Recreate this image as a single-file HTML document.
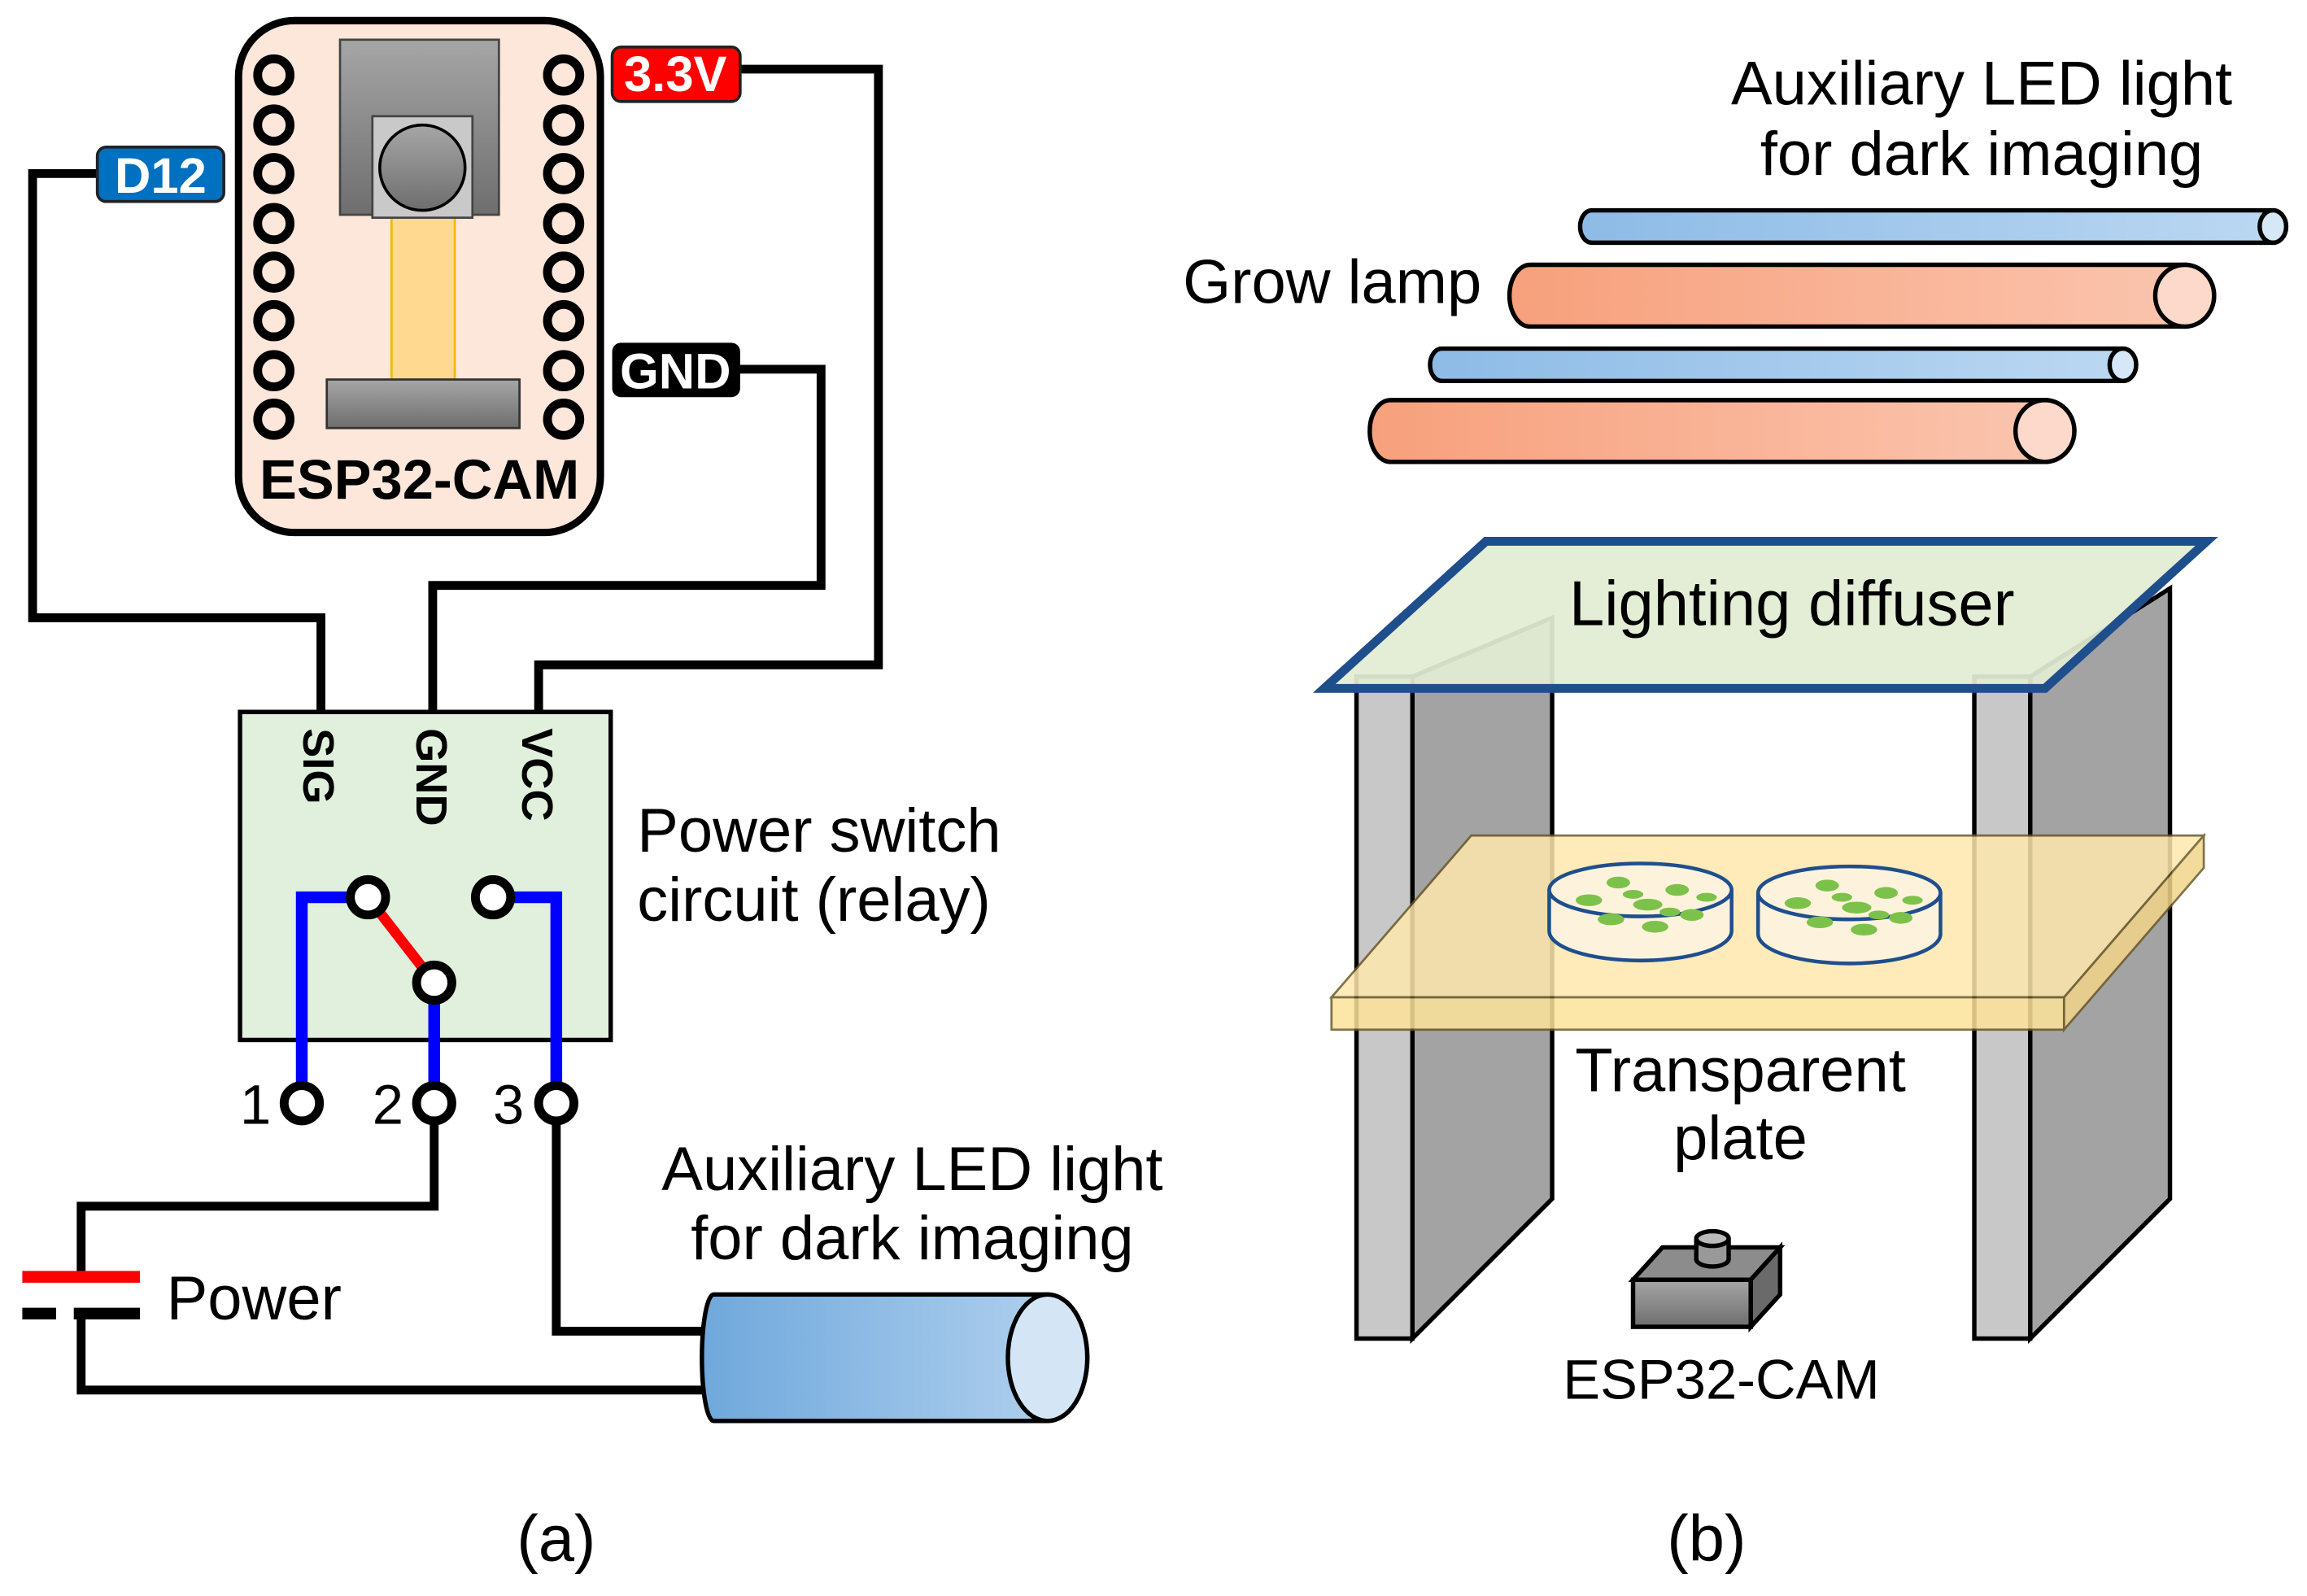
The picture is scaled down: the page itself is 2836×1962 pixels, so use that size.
<!DOCTYPE html>
<html><head><meta charset="utf-8"><style>
html,body{margin:0;padding:0;background:#fff;}
svg{display:block;}
text{font-family:"Liberation Sans","DejaVu Sans",sans-serif;}
</style></head><body>
<svg width="2836" height="1962" viewBox="0 0 1568 1085" xmlns="http://www.w3.org/2000/svg">
<defs>
<linearGradient id="gray" x1="0" y1="0" x2="0" y2="1"><stop offset="0" stop-color="#a6a6a6"/><stop offset="1" stop-color="#6e6e6e"/></linearGradient>
<linearGradient id="ledb" x1="0" y1="0" x2="1" y2="0"><stop offset="0" stop-color="#6fa8dc"/><stop offset="1" stop-color="#b5d3ef"/></linearGradient>
<linearGradient id="orng" x1="0" y1="0" x2="1" y2="0"><stop offset="0" stop-color="#f7a07c"/><stop offset="1" stop-color="#fbc6b0"/></linearGradient>
<linearGradient id="blt" x1="0" y1="0" x2="1" y2="0"><stop offset="0" stop-color="#8dbbe6"/><stop offset="1" stop-color="#bcd8f2"/></linearGradient>
</defs>
<g fill="none" stroke="#000" stroke-width="6">
<polyline points="66,118 22,118 22,420 218,420 218,484"/>
<polyline points="502,251 558,251 558,398 294,398 294,484"/>
<polyline points="502,47 597,47 597,452 366,452 366,484"/>
<polyline points="295,750 295,820 55,820 55,866"/>
<polyline points="55,893 55,945 490,945"/>
<polyline points="378,750 378,905 490,905"/>
</g>
<rect x="162" y="14" width="246" height="348" rx="38" fill="#fde6da" stroke="#000" stroke-width="5"/>
<g fill="#fde6da" stroke="#000" stroke-width="6">
<circle cx="186" cy="51" r="11"/><circle cx="186" cy="85" r="11"/><circle cx="186" cy="118" r="11"/><circle cx="186" cy="152" r="11"/><circle cx="186" cy="185" r="11"/><circle cx="186" cy="218" r="11"/><circle cx="186" cy="252" r="11"/><circle cx="186" cy="285" r="11"/>
<circle cx="383" cy="51" r="11"/><circle cx="383" cy="85" r="11"/><circle cx="383" cy="118" r="11"/><circle cx="383" cy="152" r="11"/><circle cx="383" cy="185" r="11"/><circle cx="383" cy="218" r="11"/><circle cx="383" cy="252" r="11"/><circle cx="383" cy="285" r="11"/>
</g>
<rect x="231" y="27" width="108" height="119" fill="url(#gray)" stroke="#444" stroke-width="1.5"/>
<rect x="266" y="148" width="43" height="110" fill="#fed98f" stroke="#f2b800" stroke-width="1.5"/>
<rect x="253" y="79" width="68" height="69" fill="#c9c9c9" stroke="#444" stroke-width="1.5"/>
<ellipse cx="287" cy="114" rx="29" ry="29" fill="url(#gray)" stroke="#000" stroke-width="2"/>
<rect x="222" y="258" width="131" height="33" fill="url(#gray)" stroke="#333" stroke-width="1.5"/>
<text x="285" y="339" font-size="38" font-weight="bold" text-anchor="middle">ESP32-CAM</text>
<rect x="416" y="32" width="87" height="37" rx="6" fill="#ff0000" stroke="#222" stroke-width="2"/>
<text x="459" y="62" font-size="34" font-weight="bold" fill="#fff" text-anchor="middle">3.3V</text>
<rect x="66" y="100" width="86" height="37" rx="6" fill="#0070c0" stroke="#222" stroke-width="2"/>
<text x="109" y="131" font-size="34" font-weight="bold" fill="#fff" text-anchor="middle">D12</text>
<rect x="416" y="233" width="87" height="37" rx="6" fill="#000"/>
<text x="459" y="264" font-size="34" font-weight="bold" fill="#fff" text-anchor="middle">GND</text>
<rect x="163" y="484" width="252" height="223" fill="#e0f0dc" stroke="#000" stroke-width="3"/>
<text font-size="30" font-weight="bold" transform="translate(206,495) rotate(90)">SIG</text>
<text font-size="30" font-weight="bold" transform="translate(283,495) rotate(90)">GND</text>
<text font-size="30" font-weight="bold" transform="translate(355,495) rotate(90)">VCC</text>
<g fill="none" stroke="#0000ff" stroke-width="8">
<polyline points="205,750 205,610 250,610"/>
<polyline points="295,668 295,750"/>
<polyline points="335,610 378,610 378,750"/>
</g>
<line x1="250" y1="610" x2="295" y2="668" stroke="#ff0000" stroke-width="7"/>
<g fill="#fff" stroke="#000" stroke-width="6">
<circle cx="250" cy="610" r="12"/><circle cx="295" cy="668" r="12"/><circle cx="335" cy="610" r="12"/>
<circle cx="205" cy="750" r="12"/><circle cx="295" cy="750" r="12"/><circle cx="378" cy="750" r="12"/>
</g>
<g font-size="38"><text x="163" y="764">1</text><text x="253" y="764">2</text><text x="335" y="764">3</text></g>
<line x1="15" y1="868" x2="95" y2="868" stroke="#ff0000" stroke-width="8"/>
<line x1="15" y1="893" x2="38" y2="893" stroke="#000" stroke-width="8"/>
<line x1="50" y1="893" x2="95" y2="893" stroke="#000" stroke-width="8"/>
<g font-size="42">
<text x="113" y="897">Power</text>
<text x="433" y="579">Power switch</text>
<text x="433" y="626">circuit (relay)</text>
<text x="620" y="809" text-anchor="middle">Auxiliary LED light</text>
<text x="620" y="856" text-anchor="middle">for dark imaging</text>
<text x="378" y="1061" text-anchor="middle" font-size="44">(a)</text>
<text x="1160" y="1061" text-anchor="middle" font-size="44">(b)</text>
<text x="1347" y="71" text-anchor="middle">Auxiliary LED light</text>
<text x="1347" y="119" text-anchor="middle">for dark imaging</text>
<text x="1007" y="206" text-anchor="end">Grow lamp</text>
</g>
<path d="M485,880 H712 A27,43 0 0 1 712,966 H485 A8,43 0 0 1 485,880 Z" fill="url(#ledb)" stroke="#000" stroke-width="3"/>
<ellipse cx="712" cy="923" rx="27" ry="43" fill="#d4e6f6" stroke="#000" stroke-width="3"/>
<path d="M1082,143 H1545 A9,11 0 0 1 1545,165 H1082 A8,11 0 0 1 1082,143Z" fill="url(#blt)" stroke="#000" stroke-width="3"/>
<ellipse cx="1545" cy="154" rx="9" ry="11" fill="#d6e8f7" stroke="#000" stroke-width="3"/>
<path d="M1040,180 H1485 A20,21 0 0 1 1485,222 H1040 A14,21 0 0 1 1040,180Z" fill="url(#orng)" stroke="#000" stroke-width="3"/>
<ellipse cx="1485" cy="201" rx="20" ry="21" fill="#fcd9ca" stroke="#000" stroke-width="3"/>
<path d="M980,237 H1443 A9,11 0 0 1 1443,259 H980 A8,11 0 0 1 980,237Z" fill="url(#blt)" stroke="#000" stroke-width="3"/>
<ellipse cx="1443" cy="248" rx="9" ry="11" fill="#d6e8f7" stroke="#000" stroke-width="3"/>
<path d="M945,272 H1390 A20,21 0 0 1 1390,314 H945 A14,21 0 0 1 945,272Z" fill="url(#orng)" stroke="#000" stroke-width="3"/>
<ellipse cx="1390" cy="293" rx="20" ry="21" fill="#fcd9ca" stroke="#000" stroke-width="3"/>
<g stroke="#000" stroke-width="3">
<polygon points="960,460 1055,420 1055,815 960,910" fill="#a3a3a3"/>
<rect x="922" y="460" width="38" height="450" fill="#c8c8c8"/>
<polygon points="1380,460 1475,400 1475,815 1380,910" fill="#a3a3a3"/>
<rect x="1342" y="460" width="38" height="450" fill="#c8c8c8"/>
</g>
<g stroke="#6b5a2a" stroke-width="1.5" opacity="0.85">
<polygon points="905,678 1000,568 1498,568 1403,678" fill="#fee8ad"/>
<rect x="905" y="678" width="498" height="22" fill="#fde39a"/>
<polygon points="1403,678 1498,568 1498,590 1403,700" fill="#f2d58a"/>
</g>
<g stroke="#1f4e8c" stroke-width="2.5" fill="#fdf3dc">
<path d="M1053,605 V633 A62,20 0 0 0 1177,633 V605"/>
<ellipse cx="1115" cy="605" rx="62" ry="18"/>
<path d="M1195,607 V635 A62,20 0 0 0 1319,635 V607"/>
<ellipse cx="1257" cy="607" rx="62" ry="18"/>
</g>
<g fill="#7cc24a">
<ellipse cx="1080" cy="612" rx="9" ry="4"/><ellipse cx="1100" cy="600" rx="8" ry="4"/><ellipse cx="1120" cy="615" rx="10" ry="4"/><ellipse cx="1140" cy="605" rx="8" ry="4"/><ellipse cx="1095" cy="625" rx="9" ry="4"/><ellipse cx="1125" cy="630" rx="9" ry="4"/><ellipse cx="1150" cy="622" rx="8" ry="4"/><ellipse cx="1160" cy="610" rx="7" ry="3"/><ellipse cx="1110" cy="608" rx="7" ry="3"/><ellipse cx="1135" cy="620" rx="7" ry="3"/>
<ellipse cx="1222" cy="614" rx="9" ry="4"/><ellipse cx="1242" cy="602" rx="8" ry="4"/><ellipse cx="1262" cy="617" rx="10" ry="4"/><ellipse cx="1282" cy="607" rx="8" ry="4"/><ellipse cx="1237" cy="627" rx="9" ry="4"/><ellipse cx="1267" cy="632" rx="9" ry="4"/><ellipse cx="1292" cy="624" rx="8" ry="4"/><ellipse cx="1300" cy="612" rx="7" ry="3"/><ellipse cx="1252" cy="610" rx="7" ry="3"/><ellipse cx="1277" cy="622" rx="7" ry="3"/>
</g>
<polygon points="900,468 1010,368 1500,368 1390,468" fill="#e2ecd2" fill-opacity="0.93" stroke="#1f4e8c" stroke-width="6"/>
<text x="1218" y="425" font-size="43" text-anchor="middle">Lighting diffuser</text>
<text x="1183" y="742" font-size="42" text-anchor="middle">Transparent</text>
<text x="1183" y="788" font-size="42" text-anchor="middle">plate</text>
<g stroke="#000" stroke-width="3">
<polygon points="1110,870 1130,848 1210,848 1190,870" fill="#8c8c8c"/>
<polygon points="1190,870 1210,848 1210,880 1190,902" fill="#6a6a6a"/>
<rect x="1110" y="870" width="80" height="32" fill="url(#gray)"/>
<path d="M1153,842 V856 A11,5 0 0 0 1175,856 V842" fill="#999"/>
<ellipse cx="1164" cy="842" rx="11" ry="5" fill="#bbb"/>
</g>
<text x="1170" y="951" font-size="38" text-anchor="middle">ESP32-CAM</text>
</svg>
</body></html>
